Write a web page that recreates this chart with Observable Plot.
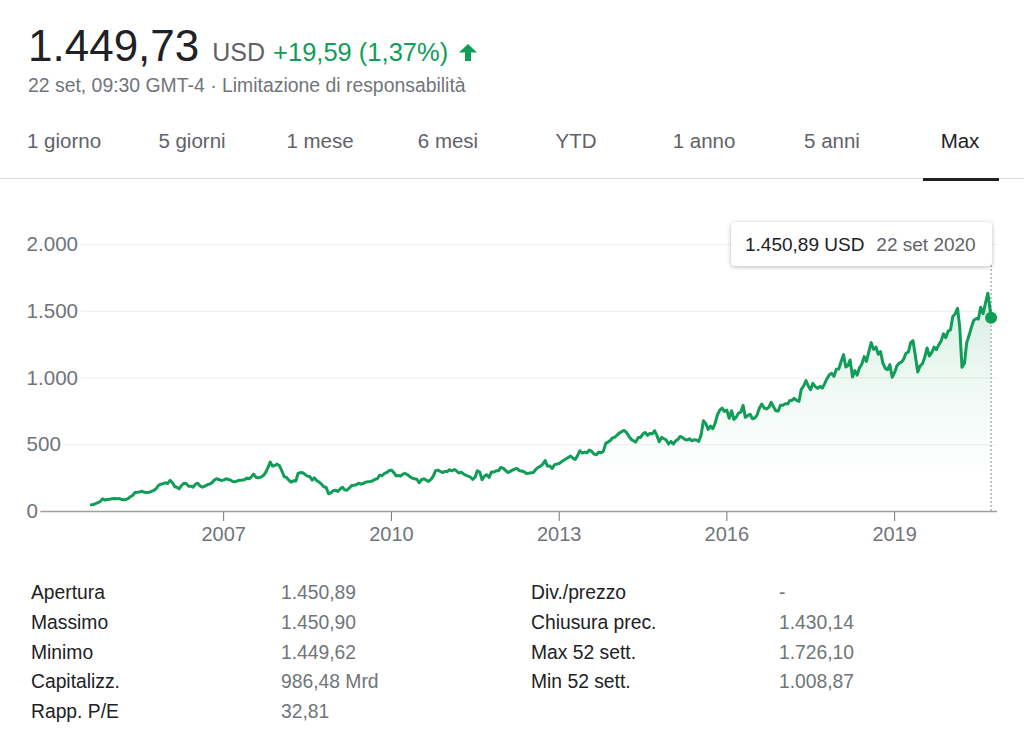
<!DOCTYPE html>
<html>
<head>
<meta charset="utf-8">
<script src="https://cdn.jsdelivr.net/npm/d3@7"></script>
<script src="https://cdn.jsdelivr.net/npm/@observablehq/plot@0.6"></script>
<style>
  body { margin: 0; background: #fff; font-family: Arial, "Liberation Sans", Helvetica, sans-serif; }
  #page { position: relative; width: 1024px; height: 746px; overflow: hidden; background: #fff; }
  .abs { position: absolute; white-space: nowrap; line-height: 1; }
  #head { left: 28px; top: 24px; font-size: 44px; color: #202124; }
  #head .cur { font-size: 25px; color: #5f6368; margin-left: 13px; }
  #head .chg { font-size: 25.5px; color: #0f9d58; margin-left: 8px; }
  #head svg { margin-left: 11px; vertical-align: 0px; }
  #sub { left: 28px; top: 76px; font-size: 19.4px; color: #70757a; }
  .tab { position: absolute; top: 131px; width: 128px; text-align: center; font-size: 20.5px; line-height: 1; color: #5f6368; }
  .tab.on { color: #202124; }
  #divider { position: absolute; left: 0; top: 178px; width: 1024px; height: 1px; background: #dadce0; }
  #underline { position: absolute; left: 923px; top: 178px; width: 76px; height: 3px; background: #202124; }
  #chart { position: absolute; left: 0; top: 190px; }
  #tip { position: absolute; left: 731px; top: 222px; width: 261px; height: 44px; background: #fff;
         border-radius: 4px; box-shadow: 0 1px 4px rgba(0,0,0,0.28); display: flex; align-items: center;
         padding: 0 14px; box-sizing: border-box; font-size: 19px; line-height: 1; white-space: nowrap; }
  #tip .v { color: #202124; }
  #tip .d { color: #5f6368; margin-left: 12px; }
  .st { position: absolute; font-size: 19.3px; line-height: 1; white-space: nowrap; }
  .st.l { color: #202124; }
  .st.v { color: #70757a; }
</style>
</head>
<body>
<div id="page">
  <div id="head" class="abs"><span>1.449,73</span><span class="cur">USD</span><span class="chg">+19,59 (1,37%)</span><svg width="18" height="17" viewBox="0 0 18 17"><polygon points="9,0 18,8.5 12,8.5 12,17 6,17 6,8.5 0,8.5" fill="#0f9d58"/></svg></div>
  <div id="sub" class="abs">22 set, 09:30 GMT-4 · Limitazione di responsabilità</div>
  <div id="tabs"></div>
  <div id="divider"></div>
  <div id="underline"></div>
  <div id="chart"></div>
  <div id="tip"><span class="v"></span><span class="d"></span></div>
  <div id="stats"></div>
</div>
<script>
// ---- Data: semi-monthly closes (1st and 16th of each month) ----
const ipoDate = new Date(Date.UTC(2004, 7, 19));
// 2004 starts at the mid-August slot
const p2004 = [50, 51, 59, 66, 74, 95, 86, 90, 91];
const p2005 = [96, 97, 95, 98, 92, 88, 90, 96, 110, 120, 142, 144, 146, 152, 144, 142, 144, 150, 158, 170, 195, 205, 208, 215];
const p2006 = [210, 233, 215, 185, 182, 170, 195, 212, 210, 190, 190, 182, 205, 212, 190, 182, 190, 200, 205, 215, 235, 245, 240, 232];
const p2007 = [235, 245, 240, 235, 225, 222, 230, 235, 235, 238, 250, 245, 260, 280, 255, 252, 258, 268, 290, 325, 370, 340, 345, 355];
const p2008 = [342, 305, 260, 255, 235, 220, 230, 228, 285, 292, 290, 278, 265, 262, 235, 252, 230, 220, 205, 185, 180, 133, 140, 155];
const p2009 = [160, 150, 170, 182, 162, 160, 175, 195, 197, 200, 212, 205, 210, 220, 222, 225, 230, 242, 245, 272, 268, 285, 292, 305];
const p2010 = [310, 292, 268, 270, 265, 280, 285, 275, 262, 250, 245, 242, 215, 238, 245, 235, 225, 240, 265, 305, 310, 300, 292, 300];
const p2011 = [300, 312, 305, 315, 305, 288, 295, 283, 272, 265, 258, 240, 255, 305, 295, 238, 265, 275, 255, 295, 295, 305, 305, 330];
const p2012 = [325, 308, 292, 300, 310, 318, 322, 305, 303, 298, 285, 286, 290, 292, 315, 330, 340, 355, 382, 340, 340, 322, 350, 355];
const p2013 = [360, 372, 385, 395, 405, 415, 400, 390, 420, 455, 438, 445, 440, 460, 450, 430, 425, 445, 440, 450, 510, 520, 532, 552];
const p2014 = [558, 575, 590, 600, 607, 592, 565, 540, 530, 520, 555, 555, 580, 592, 570, 585, 582, 605, 570, 522, 555, 545, 535, 505];
const p2015 = [525, 505, 530, 540, 562, 555, 540, 535, 545, 530, 537, 535, 525, 570, 680, 660, 615, 640, 620, 660, 725, 760, 775, 750];
const p2016 = [760, 698, 755, 690, 705, 735, 745, 795, 705, 718, 728, 695, 700, 722, 775, 805, 775, 768, 780, 818, 785, 755, 752, 795];
const p2017 = [795, 808, 805, 832, 832, 848, 832, 825, 915, 940, 980, 940, 912, 960, 935, 922, 938, 925, 958, 995, 1025, 1035, 1012, 1065];
const p2018 = [1068, 1122, 1175, 1082, 1092, 1135, 1008, 1055, 1022, 1075, 1105, 1160, 1125, 1195, 1265, 1215, 1232, 1178, 1198, 1112, 1072, 1062, 1100, 1005];
const p2019 = [1042, 1092, 1112, 1120, 1142, 1185, 1195, 1265, 1280, 1168, 1045, 1090, 1105, 1152, 1225, 1165, 1192, 1232, 1212, 1248, 1278, 1332, 1302, 1350];
const p2020 = [1362, 1460, 1482, 1522, 1385, 1080, 1110, 1265, 1318, 1378, 1432, 1445, 1442, 1530, 1482, 1560, 1635, 1510];
const lastDate = new Date(Date.UTC(2020, 8, 22));
const lastPrice = 1450.89;

const years = [2004, 2005, 2006, 2007, 2008, 2009, 2010, 2011, 2012, 2013, 2014, 2015, 2016, 2017, 2018, 2019, 2020];
const yearSeries = [p2004, p2005, p2006, p2007, p2008, p2009, p2010, p2011, p2012, p2013, p2014, p2015, p2016, p2017, p2018, p2019, p2020];

// Axis ticks
const xTickYears = [2007, 2010, 2013, 2016, 2019];
const yTicks = [0, 500, 1000, 1500, 2000];
const xDomain = [new Date(Date.UTC(2003, 8, 3)), new Date(Date.UTC(2020, 10, 3))];

// Header / tabs / stats text
const tabs = ["1 giorno", "5 giorni", "1 mese", "6 mesi", "YTD", "1 anno", "5 anni", "Max"];
const activeTab = "Max";
const statsLeft = [["Apertura", "1.450,89"], ["Massimo", "1.450,90"], ["Minimo", "1.449,62"], ["Capitalizz.", "986,48 Mrd"], ["Rapp. P/E", "32,81"]];
const statsRight = [["Div./prezzo", "-"], ["Chiusura prec.", "1.430,14"], ["Max 52 sett.", "1.726,10"], ["Min 52 sett.", "1.008,87"]];
const lastLabel = "22 set 2020";

// ---- Build table ----
const data = [];
yearSeries.forEach((arr, k) => {
  const y = years[k];
  const s0 = y === 2004 ? 15 : 0;
  arr.forEach((v, i) => {
    const s = s0 + i;
    data.push({date: new Date(Date.UTC(y, Math.floor(s / 2), s % 2 ? 16 : 1)), price: v});
  });
});
data[0].date = ipoDate;
data.push({date: lastDate, price: lastPrice});
const last = data[data.length - 1];

const it = d3.formatLocale({decimal: ",", thousands: ".", grouping: [3], currency: ["", ""]});
const fmtInt = it.format(",.0f");
const fmt2 = it.format(",.2f");

const green = "#0f9d58";

const chart = Plot.plot({
  width: 1024,
  height: 360,
  marginTop: 54,
  marginBottom: 39,
  marginLeft: 37,
  marginRight: 27,
  style: {fontFamily: "Arial, 'Liberation Sans', sans-serif", fontSize: "20px", color: "#70757a", background: "transparent", overflow: "visible"},
  x: {type: "utc", domain: xDomain, ticks: xTickYears.map(y => new Date(Date.UTC(y, 0, 1))),
      tickFormat: d => String(d.getUTCFullYear()), tickSize: 10, tickPadding: 5, label: null},
  y: {domain: [0, d3.max(yTicks)], axis: null},
  marks: [
    Plot.ruleY(yTicks.filter(d => d > 0), {stroke: "#ededed", strokeWidth: 1}),
    Plot.areaY(data, {x: "date", y: "price", fill: "url(#areaGrad)"}),
    Plot.ruleY([0], {stroke: "#a0a0a0", strokeWidth: 1.5}),
    Plot.ruleX([last], {x: "date", y1: 0, y2: d3.max(yTicks), stroke: "#9aa0a6", strokeWidth: 1.2, strokeDasharray: "2,2"}),
    Plot.line(data, {x: "date", y: "price", stroke: green, strokeWidth: 3, strokeLinejoin: "round", strokeLinecap: "round"}),
    Plot.dot([last], {x: "date", y: "price", r: 6, fill: green}),
    Plot.text(yTicks, {y: d => d, text: d => fmtInt(d), frameAnchor: "left", textAnchor: "start", dx: -11,
      fill: "#70757a", stroke: "white", strokeWidth: 6, paintOrder: "stroke", fontSize: 20.6})
  ]
});
const ns = "http://www.w3.org/2000/svg";
const defs = document.createElementNS(ns, "defs");
const grad = document.createElementNS(ns, "linearGradient");
grad.setAttribute("id", "areaGrad");
grad.setAttribute("x1", "0"); grad.setAttribute("y1", "0");
grad.setAttribute("x2", "0"); grad.setAttribute("y2", "1");
[[0, 0.17], [0.45, 0.06], [0.85, 0]].forEach(([o, a]) => {
  const st = document.createElementNS(ns, "stop");
  st.setAttribute("offset", o);
  st.setAttribute("stop-color", green);
  st.setAttribute("stop-opacity", a);
  grad.appendChild(st);
});
defs.appendChild(grad);
chart.insertBefore(defs, chart.firstChild);
document.getElementById("chart").appendChild(chart);

// tooltip
document.querySelector("#tip .v").textContent = fmt2(last.price) + " USD";
document.querySelector("#tip .d").textContent = lastLabel;

// tabs
const tabsEl = document.getElementById("tabs");
tabs.forEach((t, i) => {
  const d = document.createElement("div");
  d.className = "tab" + (t === activeTab ? " on" : "");
  d.style.left = (i * 128) + "px";
  d.textContent = t;
  tabsEl.appendChild(d);
});

// stats
const statsEl = document.getElementById("stats");
function addStats(rows, xl, xv) {
  rows.forEach(([l, v], i) => {
    const top = 583 + i * 29.8;
    const a = document.createElement("div");
    a.className = "st l"; a.style.left = xl + "px"; a.style.top = top + "px"; a.textContent = l;
    const b = document.createElement("div");
    b.className = "st v"; b.style.left = xv + "px"; b.style.top = top + "px"; b.textContent = v;
    statsEl.appendChild(a); statsEl.appendChild(b);
  });
}
addStats(statsLeft, 31, 281);
addStats(statsRight, 531, 779);
</script>
</body>
</html>
